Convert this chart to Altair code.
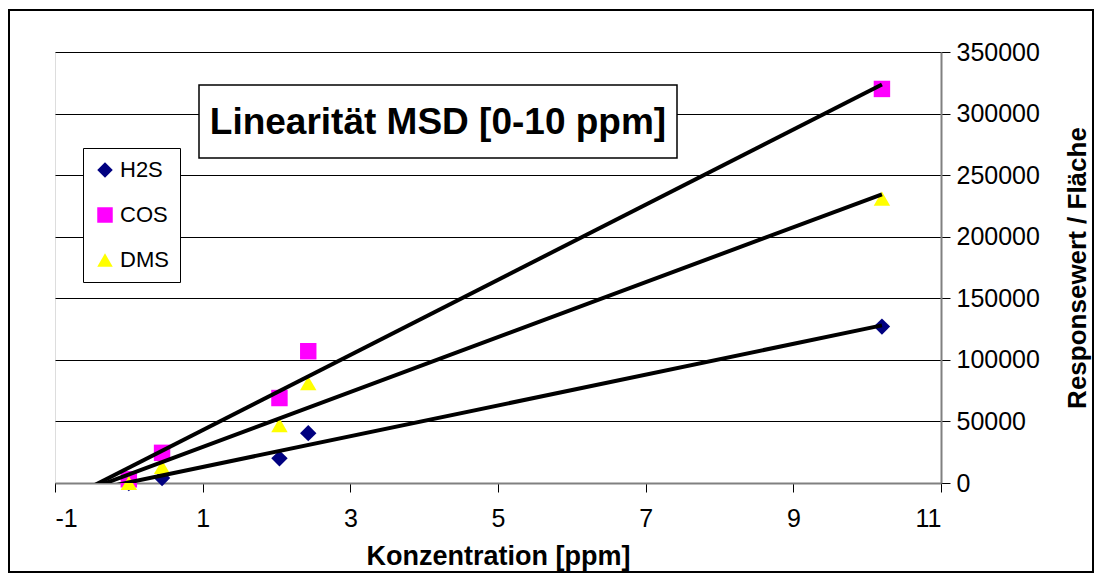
import altair as alt
import pandas as pd

conc = [0.0, 0.45, 2.04, 2.43, 10.2]
h2s = [0, 4000, 20000, 40500, 127000]
cos = [3000, 24500, 69000, 107000, 320000]
dms = [0, 13000, 47000, 81000, 231000]
series = ["H2S", "COS", "DMS"]
colors = ["#000080", "#FF00FF", "#FFFF00"]
shapes = ["diamond", "square", "triangle-up"]
x_ticks = [-1, 1, 3, 5, 7, 9, 11]
y_ticks = [0, 50000, 100000, 150000, 200000, 250000, 300000, 350000]

rows = []
for name, vals in zip(series, [h2s, cos, dms]):
    for c, v in zip(conc, vals):
        rows.append({"series": name, "x": c, "y": v})
df = pd.DataFrame(rows)

W, H = 886, 431
FONT = "Liberation Sans"

xs = alt.Scale(domain=[-1, 11], nice=False, zero=False)
ys = alt.Scale(domain=[0, 350000], nice=False)

base = alt.Chart(df)

border = alt.Chart(pd.DataFrame({"a": [0]})).mark_rect(
    fill=None, stroke="black", strokeWidth=2, clip=False
).encode(x=alt.value(-46), x2=alt.value(W + 152), y=alt.value(-42), y2=alt.value(H + 89))

points = base.mark_point(filled=True, size=270, opacity=1).encode(
    x=alt.X("x:Q", scale=xs, axis=alt.Axis(
        values=x_ticks, labelExpr="'' + datum.value", title="Konzentration [ppm]",
        grid=False, orient="bottom",
        labelFontSize=25, labelFont=FONT, labelColor="black", labelPadding=14,
        titleFontSize=27, titleFont=FONT, titleFontWeight="bold", titleColor="black",
        titlePadding=12, tickColor="black", tickSize=9, domainColor="#808080", domainWidth=2)),
    y=alt.Y("y:Q", scale=ys, axis=alt.Axis(
        values=y_ticks, format="d", title="Responsewert / Fläche", orient="right",
        grid=True, gridColor="black", gridWidth=1, labelFontSize=25, labelFont=FONT,
        labelColor="black", labelPadding=6, titleFontSize=26, titleFont=FONT,
        titleFontWeight="bold", titleColor="black", titleAngle=270, titleBaseline="top",
        titlePadding=25,
        tickColor="black", tickSize=9, domainColor="#808080", domainWidth=2)),
    color=alt.Color("series:N", scale=alt.Scale(domain=series, range=colors),
                    legend=alt.Legend(title=None, orient="none", legendX=28, legendY=96,
                                      fillColor="white", strokeColor="black", padding=11,
                                      labelFontSize=22, labelFont=FONT, labelColor="black",
                                      symbolSize=240, rowPadding=23, labelOffset=4,
                                      symbolStrokeWidth=0)),
    shape=alt.Shape("series:N", scale=alt.Scale(domain=series, range=shapes), legend=None),
)

lines = base.transform_regression(
    "x", "y", groupby=["series"], extent=[-0.5, 10.2]
).mark_line(color="black", strokeWidth=4, clip=True).encode(
    x=alt.X("x:Q", scale=xs), y=alt.Y("y:Q", scale=ys), detail="series:N"
)

title_box = alt.Chart(pd.DataFrame({"a": [0]})).mark_rect(
    fill="white", stroke="black", strokeWidth=1.5
).encode(x=alt.value(144), x2=alt.value(622), y=alt.value(33), y2=alt.value(106))

title_text = alt.Chart(pd.DataFrame({"t": ["Linearität MSD [0-10 ppm]"]})).mark_text(
    font=FONT, fontSize=37, fontWeight="bold", color="black", align="center", baseline="middle"
).encode(x=alt.value(383), y=alt.value(71), text="t:N")

chart = alt.layer(border, points, lines, title_box, title_text).properties(
    width=W, height=H, padding={"left": 47, "top": 44, "right": 154, "bottom": 91},
    autosize=alt.AutoSizeParams(type="none"),
).configure_view(fill="#C0C0C0", stroke="#808080", strokeWidth=2).configure(background="white")

chart.save("out.html", embed_options={"renderer": "svg", "actions": False})
